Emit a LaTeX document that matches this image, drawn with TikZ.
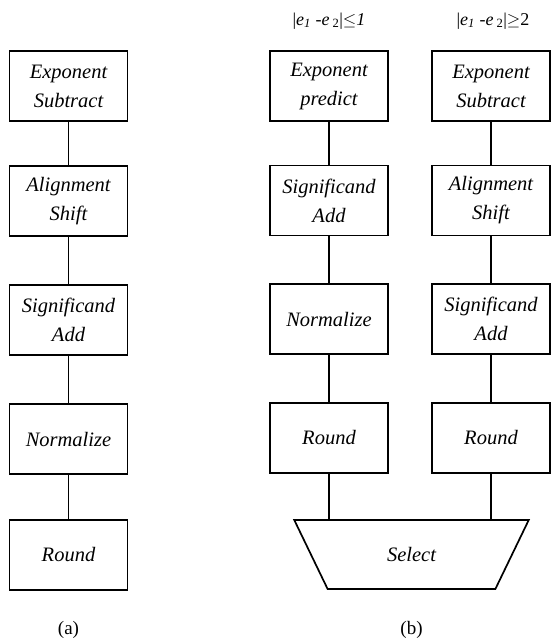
\documentclass[tikz,border=0pt]{standalone}
\usepackage{fontspec}
\setmainfont{Liberation Serif}
\usetikzlibrary{shapes.geometric}

\begin{document}
\begin{tikzpicture}[
    x=1pt, y=-1pt,
    stage/.style={rectangle, draw=black, line width=1.7pt, minimum width=118pt, minimum height=70pt, inner sep=2pt, align=center, font=\fontsize{20.5}{29}\selectfont\itshape},
    link/.style={line width=1.4pt},
    selector/.style={trapezium, draw=black, line width=1.7pt, shape border rotate=180, trapezium stretches=true, trapezium angle=56, minimum width=235pt, minimum height=69pt, inner sep=0pt, font=\fontsize{20.5}{29}\selectfont\itshape},
    caption/.style={font=\fontsize{19}{22}\selectfont},
    cond/.style={font=\fontsize{18}{22}\selectfont}
]
\useasboundingbox (0,0) rectangle (551,640);

% ===== (a) SERIAL PATH =====
\node[stage] (aexp)  at (68.5, 86)  {Exponent\\Subtract};
\node[stage] (aalig) at (68.5, 201) {Alignment\\Shift};
\node[stage] (aadd)  at (68.5, 320) {Significand\\Add};
\node[stage] (anorm) at (68.5, 439) {Normalize};
\node[stage] (arnd)  at (68.5, 555) {Round};
\node[caption] (capa) at (68.5, 630) {(a)};

% ===== (b) NEAR PATH =====
\node[cond] (condn) at (329, 21) {|\textit{e}\textsubscript{\textit{1}} -\textit{e}\,\textsubscript{2}|$\le$\textit{1}};
\node[stage] (nexp)  at (329, 86)  {Exponent\\predict};
\node[stage] (nadd)  at (329, 200.5) {Significand\\Add};
\node[stage] (nnorm) at (329, 319) {Normalize};
\node[stage] (nrnd)  at (329, 438) {Round};

% ===== (b) FAR PATH =====
\node[cond] (condf) at (493, 21) {|\textit{e}\textsubscript{\textit{1}} -\textit{e}\,\textsubscript{2}|$\ge$2};
\node[stage] (fexp)  at (491, 86)  {Exponent\\Subtract};
\node[stage] (falig) at (491, 200.5) {Alignment\\Shift};
\node[stage] (fadd)  at (491, 319) {Significand\\Add};
\node[stage] (frnd)  at (491, 438) {Round};

% ===== SELECT =====
\node[selector] (sel) at (411.5, 554.5) {Select};
\node[caption] (capb) at (411.5, 630) {(b)};

% ===== CONNECTIONS =====
\draw[link] (aexp) -- (aalig);
\draw[link] (aalig) -- (aadd);
\draw[link] (aadd) -- (anorm);
\draw[link] (anorm) -- (arnd);

\draw[link] (nexp) -- (nadd);
\draw[link] (nadd) -- (nnorm);
\draw[link] (nnorm) -- (nrnd);
\draw[link] (nrnd.south) -- (nrnd.south |- sel.north);

\draw[link] (fexp) -- (falig);
\draw[link] (falig) -- (fadd);
\draw[link] (fadd) -- (frnd);
\draw[link] (frnd.south) -- (frnd.south |- sel.north);

\end{tikzpicture}
\end{document}
